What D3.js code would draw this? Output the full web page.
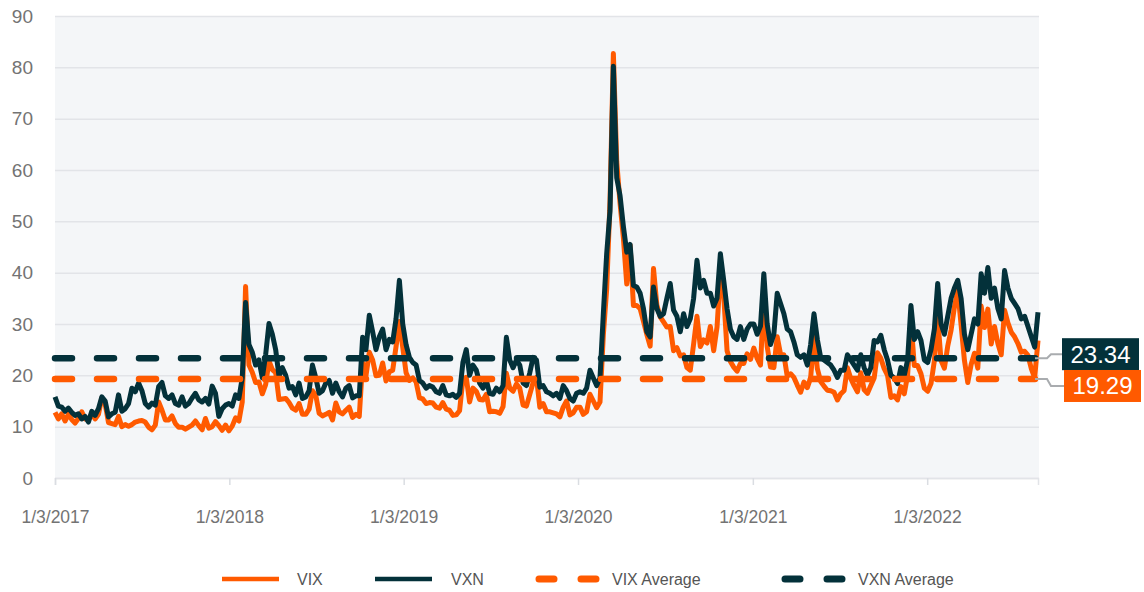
<!DOCTYPE html>
<html>
<head>
<meta charset="utf-8">
<script src="https://cdn.jsdelivr.net/npm/d3@7"></script>
<style>
  body { margin: 0; background: #fff; }
  svg { display: block; font-family: "Liberation Sans", Arial, sans-serif; }
</style>
</head>
<body>
<svg width="1144" height="592"></svg>
<script>
// weekly readings (Tuesdays) starting 1/3/2017
const startDate = "2017-01-03";

const vixValues = [
  // 2017
  12.8, 11.5, 12.5, 11.1, 12.4, 11.4, 10.7, 11.6, 12.9, 11.5, 11.4, 12.5, 11.5,
  12.4, 15.6, 14.4, 10.8, 10.6, 10.4, 12.0, 10.0, 10.4, 10.1, 10.4, 10.9, 11.1,
  11.2, 10.9, 9.9, 9.4, 10.3, 14.8, 13.2, 11.3, 11.3, 12.1, 10.6, 9.9, 9.9,
  9.5, 9.9, 10.3, 11.1, 10.2, 9.4, 11.6, 9.7, 10.0, 11.0, 10.2, 9.3, 10.3,
  // 2018
  9.2, 10.1, 11.7, 11.1, 14.8, 37.3, 22.0, 20.6, 18.6, 18.7, 16.4, 18.2, 22.8,
  21.1, 20.5, 15.3, 15.4, 15.5, 14.7, 13.6, 13.2, 14.5, 12.4, 12.4, 13.4, 17.0,
  16.1, 12.6, 12.1, 12.4, 12.8, 11.3, 14.6, 12.9, 12.5, 13.2, 13.8, 11.8, 12.4,
  12.0, 22.5, 19.9, 24.5, 23.0, 19.9, 20.0, 22.4, 18.9, 20.7, 21.0, 25.6, 30.5,
  // 2019
  25.5, 20.5, 19.0, 19.5, 18.7, 15.6, 15.4, 14.5, 14.7, 14.6, 13.8, 13.6, 14.7,
  13.4, 13.2, 12.2, 12.3, 13.1, 19.3, 19.6, 14.8, 17.5, 16.9, 15.3, 15.2, 16.3,
  12.9, 13.0, 12.9, 12.6, 13.9, 20.4, 17.5, 16.9, 18.3, 17.5, 14.2, 14.0, 16.3,
  18.6, 19.6, 13.8, 14.5, 12.9, 12.9, 12.7, 12.5, 11.9, 13.8, 15.0, 12.3, 12.7, 13.8,
  // 2020
  13.8, 12.4, 12.9, 16.3, 15.0, 13.7, 14.8, 27.9, 36.8, 54.0, 82.7, 61.7, 53.5,
  46.7, 37.8, 45.4, 33.6, 33.6, 33.0, 30.5, 28.0, 25.7, 40.8, 33.7, 31.4, 30.4,
  29.4, 29.5, 24.8, 25.4, 23.8, 24.0, 21.5, 21.0, 26.1, 31.5, 25.6, 26.9, 26.3,
  29.5, 24.8, 29.4, 39.8, 35.6, 24.8, 22.7, 21.6, 20.8, 22.3, 22.3, 24.2, 23.1,
  // 2021
  25.3, 23.3, 22.0, 35.0, 25.6, 21.6, 21.5, 27.5, 24.1, 24.0, 19.8, 20.3, 19.6,
  18.1, 16.7, 18.7, 17.6, 19.5, 27.6, 21.3, 18.8, 17.9, 17.1, 17.0, 16.7, 15.2,
  16.4, 17.0, 21.5, 19.4, 18.0, 16.8, 20.5, 17.2, 16.5, 18.0, 19.5, 24.4, 23.3,
  21.3, 20.0, 15.7, 16.0, 15.2, 17.8, 16.4, 20.0, 30.7, 21.9, 21.9, 20.3, 17.5,
  // 2022
  16.9, 18.4, 22.8, 31.2, 22.9, 21.4, 25.7, 28.8, 33.3, 36.5, 29.8, 22.9, 18.6,
  22.1, 24.3, 21.4, 33.5, 29.3, 32.9, 26.1, 29.5, 26.2, 24.0, 32.7, 30.2, 28.4,
  27.5, 26.2, 24.5, 24.7, 23.9, 21.3, 19.5, 26.8
];

const vxnValues = [
  // 2017
  15.8, 14.0, 13.8, 13.0, 13.6, 12.8, 12.2, 12.5, 11.5, 12.0, 10.9, 13.0, 12.2,
  13.5, 15.8, 15.0, 11.9, 12.5, 12.8, 16.2, 13.0, 13.5, 14.5, 17.5, 16.8, 18.5,
  17.0, 14.5, 13.8, 14.6, 14.2, 17.8, 18.6, 16.0, 15.5, 16.2, 14.5, 14.2, 15.8,
  14.0, 14.5, 15.6, 16.5, 15.2, 14.8, 15.5, 14.4, 17.9, 16.5, 12.0, 13.5, 14.2,
  // 2018
  14.5, 14.0, 16.2, 15.5, 19.5, 34.2, 26.0, 24.5, 22.0, 23.0, 19.5, 24.0, 30.1,
  28.0, 25.0, 19.8, 21.5, 20.0, 17.5, 17.8, 16.2, 18.5, 15.5, 15.8, 17.0, 22.0,
  19.5, 16.5, 17.0, 18.5, 19.0, 16.5, 18.5, 16.8, 15.8, 17.5, 18.0, 15.6, 16.0,
  16.0, 27.4, 25.0, 31.7, 28.5, 25.0, 27.5, 29.0, 25.0, 27.0, 26.5, 31.0, 38.5,
  // 2019
  30.0, 26.0, 23.5, 22.5, 22.0, 19.0, 18.5, 17.5, 18.0, 17.7, 16.8, 16.5, 18.0,
  16.2, 16.0, 16.3, 15.7, 16.5, 22.5, 25.0, 20.0, 22.0, 21.0, 18.5, 17.5, 19.0,
  16.5, 16.3, 17.5, 16.8, 18.0, 27.4, 23.0, 21.5, 23.0, 22.0, 18.5, 18.0, 20.5,
  23.5, 23.0, 17.7, 18.0, 16.8, 16.5, 16.0, 16.5, 15.5, 18.0, 17.0, 15.5, 15.0, 16.5,
  // 2020
  16.8, 16.5, 17.5, 21.0, 19.5, 18.0, 19.5, 32.0, 43.7, 52.0, 80.2, 58.5, 55.0,
  49.0, 44.0, 45.5, 37.5, 37.2, 36.0, 33.0, 28.5, 27.5, 37.2, 33.0, 31.5, 32.0,
  35.0, 37.9, 32.7, 31.5, 28.5, 32.0, 29.5, 31.0, 35.0, 42.4, 37.0, 38.5, 36.0,
  36.0, 33.5, 35.0, 43.7, 38.5, 33.0, 29.0, 27.5, 27.0, 29.5, 27.0, 29.0, 30.0,
  // 2021
  30.0, 28.0, 29.6, 39.8, 30.0, 26.0, 28.0, 36.0, 34.0, 32.0, 29.0, 28.5, 26.5,
  24.0, 23.5, 24.0, 22.0, 26.0, 32.0, 27.0, 23.5, 23.0, 22.5, 22.0, 21.0, 19.6,
  21.0, 21.0, 24.0, 23.0, 22.0, 21.0, 24.0, 21.5, 20.0, 21.5, 26.8, 26.5, 27.8,
  25.0, 23.0, 20.0, 19.5, 18.4, 21.5, 20.0, 23.0, 33.6, 27.0, 28.5, 26.8, 23.0,
  // 2022
  22.5, 25.0, 29.0, 37.9, 30.0, 28.0, 31.5, 35.0, 37.0, 38.5, 35.0, 28.0, 25.0,
  28.0, 31.0, 30.0, 39.8, 36.0, 41.0, 35.0, 37.0, 33.0, 31.0, 40.4, 37.0, 35.0,
  34.0, 33.0, 31.0, 31.5, 29.5, 27.5, 25.5, 32.3
];

const vixAverage = 19.29;
const vxnAverage = 23.34;

const xTickLabels = ["1/3/2017", "1/3/2018", "1/3/2019", "1/3/2020", "1/3/2021", "1/3/2022"];
const yTicks = [0, 10, 20, 30, 40, 50, 60, 70, 80, 90];
const legendLabels = ["VIX", "VXN", "VIX Average", "VXN Average"];

const orange = "#ff5a00";
const dark = "#03313a";

const parse = d3.timeParse("%Y-%m-%d");
const parseTick = d3.timeParse("%m/%d/%Y");
const start = parse(startDate);
const dates = vixValues.map((v, i) => d3.timeDay.offset(start, i * 7));

const plotLeft = 55, plotRight = 1039, plotTop = 16, plotBottom = 478;

const x = d3.scaleTime().domain([dates[0], dates[dates.length - 1]]).range([plotLeft, plotRight - 1]);
const y = d3.scaleLinear().domain([0, 90]).range([plotBottom, plotTop]);

const svg = d3.select("svg");

svg.append("rect")
  .attr("x", plotLeft).attr("y", plotTop)
  .attr("width", plotRight - plotLeft).attr("height", plotBottom - plotTop)
  .attr("fill", "#f4f6f8");

// y axis with grid
const yAxis = svg.append("g")
  .attr("transform", `translate(${plotLeft},0)`)
  .call(d3.axisLeft(y).tickValues(yTicks).tickSize(-(plotRight - plotLeft)).tickPadding(22));
yAxis.select(".domain").remove();
yAxis.selectAll(".tick line").attr("stroke", "#e2e4e8").attr("stroke-width", 1.5);
yAxis.selectAll(".tick text")
  .attr("fill", "#737373")
  .style("font-size", "19px")
  .style("font-family", "'Liberation Sans', Arial, sans-serif");

// x axis
const xAxis = svg.append("g")
  .attr("transform", `translate(0,${plotBottom})`)
  .call(d3.axisBottom(x)
    .tickValues(xTickLabels.map(t => parseTick(t)))
    .tickFormat((d, i) => xTickLabels[i])
    .tickSize(7).tickPadding(26));
xAxis.select(".domain").attr("stroke", "#e2e4e8").attr("stroke-width", 1.5);
xAxis.selectAll(".tick line").attr("stroke", "#dadde2").attr("stroke-width", 1.5);
xAxis.selectAll(".tick text")
  .attr("fill", "#737373")
  .style("font-size", "17.5px")
  .style("font-family", "'Liberation Sans', Arial, sans-serif");

const line = d3.line()
  .x((d, i) => x(dates[i]))
  .y(d => y(d));

svg.append("path")
  .datum(vixValues)
  .attr("d", line)
  .attr("fill", "none")
  .attr("stroke", orange)
  .attr("stroke-width", 5)
  .attr("stroke-linejoin", "round");

svg.append("path")
  .datum(vxnValues)
  .attr("d", line)
  .attr("fill", "none")
  .attr("stroke", dark)
  .attr("stroke-width", 5)
  .attr("stroke-linejoin", "round");

// average lines
[[vixAverage, orange], [vxnAverage, dark]].forEach(([avg, col]) => {
  svg.append("line")
    .attr("x1", plotLeft).attr("x2", plotRight - 4)
    .attr("y1", y(avg)).attr("y2", y(avg))
    .attr("stroke", col)
    .attr("stroke-width", 6.5)
    .attr("stroke-linecap", "round")
    .attr("stroke-dasharray", "17 25");
});

// end labels
const labels = [
  {value: vxnAverage, color: dark, boxY: y(vxnAverage) - 20, boxX: 1062},
  {value: vixAverage, color: orange, boxY: y(vixAverage) - 9, boxX: 1064}
];
labels.forEach(l => {
  const cy = l.boxY + 16;
  svg.append("path")
    .attr("d", `M${plotRight - 4},${y(l.value)} L${plotRight + 8},${y(l.value)} L${plotRight + 12},${cy} L${l.boxX},${cy}`)
    .attr("fill", "none")
    .attr("stroke", "#a9acaf")
    .attr("stroke-width", 2);
  svg.append("rect")
    .attr("x", l.boxX).attr("y", l.boxY)
    .attr("width", 77).attr("height", 32)
    .attr("fill", l.color);
  svg.append("text")
    .attr("x", l.boxX + 38.5).attr("y", cy + 8.5)
    .attr("text-anchor", "middle")
    .attr("fill", "#fff")
    .style("font-size", "24px")
    .text(l.value.toFixed(2));
});

// legend
const legendY = 579;
const legend = [
  {label: legendLabels[0], color: orange, x: 222, dashed: false, tx: 297},
  {label: legendLabels[1], color: dark, x: 375, dashed: false, tx: 451},
  {label: legendLabels[2], color: orange, x: 539, dashed: true, tx: 612},
  {label: legendLabels[3], color: dark, x: 785, dashed: true, tx: 858}
];
legend.forEach(l => {
  if (l.dashed) {
    svg.append("line")
      .attr("x1", l.x).attr("x2", l.x + 60)
      .attr("y1", legendY).attr("y2", legendY)
      .attr("stroke", l.color)
      .attr("stroke-width", 7)
      .attr("stroke-linecap", "round")
      .attr("stroke-dasharray", "15 27");
  } else {
    svg.append("line")
      .attr("x1", l.x).attr("x2", l.x + 57)
      .attr("y1", legendY).attr("y2", legendY)
      .attr("stroke", l.color)
      .attr("stroke-width", 4.5);
  }
  svg.append("text")
    .attr("x", l.tx).attr("y", legendY + 6)
    .attr("fill", "#555")
    .style("font-size", "16px")
    .text(l.label);
});
</script>
</body>
</html>
